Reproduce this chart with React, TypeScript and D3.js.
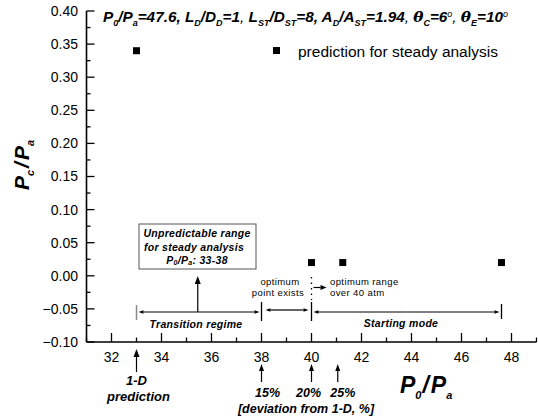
import React from 'react';
import * as d3 from 'd3';

// P0/Pa vs Pc/Pa, steady analysis predictions
const pressureRatio = [33, 40, 41.25, 47.6];
const cavityRatio = [0.34, 0.02, 0.02, 0.02];
const xMajorTicks = [32, 34, 36, 38, 40, 42, 44, 46, 48];
const yMajorTicks = [-0.1, -0.05, 0, 0.05, 0.1, 0.15, 0.2, 0.25, 0.3, 0.35, 0.4];
const deviationAt = [38, 40, 41.05];
const deviationLabels = ['15%', '20%', '25%'];

const W = 538;
const H = 417;
const FONT = "Arial, 'Liberation Sans', Helvetica, sans-serif";

const Arrow = ({ x1, y1, x2, y2, head = 5, w = 2.2, color = '#000' }) => {
  const ang = Math.atan2(y2 - y1, x2 - x1);
  const bx = x2 - head * Math.cos(ang);
  const by = y2 - head * Math.sin(ang);
  const px = -Math.sin(ang) * w;
  const py = Math.cos(ang) * w;
  return (
    <g>
      <line x1={x1} y1={y1} x2={bx} y2={by} stroke={color} strokeWidth={1.2} />
      <path d={`M${x2},${y2}L${bx + px},${by + py}L${bx - px},${by - py}Z`} fill={color} />
    </g>
  );
};

const DoubleArrow = ({ x1, x2, y }) => (
  <g>
    <Arrow x1={(x1 + x2) / 2} y1={y} x2={x1} y2={y} head={5} w={1.8} />
    <Arrow x1={(x1 + x2) / 2} y1={y} x2={x2} y2={y} head={5} w={1.8} />
  </g>
);

export default function App() {
  const x = d3.scaleLinear().domain([31, 49]).range([86.5, 536.5]);
  const y = d3.scaleLinear().domain([-0.1, 0.4]).range([342, 11]);

  const xMinor = d3.range(31, 49.5, 1).filter((v) => !xMajorTicks.includes(v));
  const yMinor = d3.range(-0.075, 0.4, 0.05);

  const sub = (t, size = 9, dy = 4) => (
    <tspan fontSize={size} dy={dy}>{t}</tspan>
  );

  const dimY = 312;
  const devDx = [6, -3, 5];

  return (
    <svg width={W} height={H} style={{ position: 'absolute', left: 0, top: 0, background: '#fff' }} fontFamily={FONT}>
      <rect width={W} height={H} fill="#fff" />

      {/* axes */}
      <line x1={x(31)} x2={x(31)} y1={y(0.4)} y2={y(-0.1)} stroke="#000" strokeWidth={1.6} />
      <line x1={x(31)} x2={x(49)} y1={y(-0.1)} y2={y(-0.1)} stroke="#000" strokeWidth={1.6} />
      {yMajorTicks.map((v) => (
        <g key={'ym' + v}>
          <line x1={x(31)} x2={x(31) + 8} y1={y(v)} y2={y(v)} stroke="#000" strokeWidth={1.3} />
          <text x={78} y={y(v)} dy="0.35em" textAnchor="end" fontSize={14}>
            {d3.format('.2f')(v)}
          </text>
        </g>
      ))}
      {yMinor.map((v) => (
        <line key={'yn' + v} x1={x(31)} x2={x(31) + 4} y1={y(v)} y2={y(v)} stroke="#000" strokeWidth={1.3} />
      ))}
      {xMajorTicks.map((v) => (
        <g key={'xm' + v}>
          <line x1={x(v)} x2={x(v)} y1={y(-0.1)} y2={y(-0.1) - 9} stroke="#000" strokeWidth={1.3} />
          <text x={x(v)} y={362} textAnchor="middle" fontSize={14}>{v}</text>
        </g>
      ))}
      {xMinor.map((v) => (
        <line key={'xn' + v} x1={x(v)} x2={x(v)} y1={y(-0.1)} y2={y(-0.1) - 4.5} stroke="#000" strokeWidth={1.3} />
      ))}

      {/* data */}
      {pressureRatio.map((p, i) => (
        <rect key={'pt' + i} x={x(p) - 3.5} y={y(cavityRatio[i]) - 3.5} width={7} height={7} fill="#000" />
      ))}

      {/* title */}
      <text x={103} y={22} fontSize={15.3} fontWeight="bold" fontStyle="italic">
        P{sub('0')}<tspan dy={-4}>/P</tspan>{sub('a')}<tspan dy={-4}>=47.6, L</tspan>{sub('D')}
        <tspan dy={-4}>/D</tspan>{sub('D')}<tspan dy={-4}>=1</tspan>
        <tspan fontWeight="normal">, </tspan>L{sub('ST')}<tspan dy={-4}>/D</tspan>{sub('ST')}
        <tspan dy={-4}>=8, A</tspan>{sub('D')}<tspan dy={-4}>/A</tspan>{sub('ST')}
        <tspan dy={-4}>=1.94</tspan><tspan fontWeight="normal">, </tspan>
        <tspan fontFamily="'DejaVu Serif', serif">θ</tspan>{sub('C')}<tspan dy={-4}>=6</tspan>
        <tspan fontSize={9} dy={-5} fontWeight="normal">o</tspan><tspan dy={5} fontWeight="normal">, </tspan>
        <tspan fontFamily="'DejaVu Serif', serif">θ</tspan>{sub('E')}<tspan dy={-4}>=10</tspan>
        <tspan fontSize={9} dy={-5} fontWeight="normal">o</tspan>
      </text>

      {/* legend */}
      <rect x={273} y={47} width={7} height={7} fill="#000" />
      <text x={298} y={57} fontSize={15.5}>prediction for steady analysis</text>

      {/* axis titles */}
      <text transform="translate(29,165) rotate(-90)" textAnchor="middle" fontSize={21} fontWeight="bold" fontStyle="italic">
        P<tspan fontSize={11} dy={5}>c</tspan><tspan dy={-5} dx={2}>/</tspan><tspan dx={2}>P</tspan><tspan fontSize={11} dy={5}>a</tspan>
      </text>
      <text x={400} y={393} fontSize={23} fontWeight="bold" fontStyle="italic">
        P<tspan fontSize={11} dy={6}>0</tspan><tspan dy={-6} dx={1}>/</tspan><tspan dx={2}>P</tspan><tspan fontSize={11} dy={6}>a</tspan>
      </text>

      {/* unpredictable range box */}
      <rect x={139} y={224} width={117} height={45} fill="#fff" stroke="#555" strokeWidth={1} />
      <g fontSize={10.5} fontWeight="bold" fontStyle="italic" textAnchor="middle" letterSpacing={0.3}>
        <text x={197} y={237}>Unpredictable range</text>
        <text x={194} y={250.5}>for steady analysis</text>
        <text x={197} y={264}>
          P<tspan fontSize={7} dy={1}>0</tspan><tspan dy={-1}>/P</tspan><tspan fontSize={7} dy={1}>a</tspan><tspan dy={-1}>: 33-38</tspan>
        </text>
      </g>
      <Arrow x1={x(35.45)} y1={dimY} x2={x(35.45)} y2={276} head={8} w={3} />

      {/* regime dimension lines */}
      <line x1={x(33)} x2={x(33)} y1={305} y2={320} stroke="#888" strokeWidth={1.5} />
      <line x1={x(38)} x2={x(38)} y1={302} y2={321} stroke="#000" strokeWidth={1.3} />
      <line x1={x(40)} x2={x(40)} y1={302} y2={321} stroke="#000" strokeWidth={1.3} />
      <line x1={x(47.6)} x2={x(47.6)} y1={304} y2={319} stroke="#000" strokeWidth={1.3} />
      <DoubleArrow x1={x(33) + 2} x2={x(38) - 2} y={dimY} />
      <DoubleArrow x1={x(38) + 4} x2={x(40) - 3} y={dimY - 2} />
      <DoubleArrow x1={x(40) + 2} x2={x(47.6) - 2} y={dimY} />
      <g fontSize={10.5} fontWeight="bold" fontStyle="italic" textAnchor="middle" letterSpacing={0.3}>
        <text x={196} y={328}>Transition regime</text>
        <text x={401} y={327}>Starting mode</text>
      </g>

      {/* optimum annotations */}
      <line x1={x(40)} x2={x(40)} y1={277} y2={300} stroke="#000" strokeWidth={1.3} strokeDasharray="1.5,4" />
      <Arrow x1={x(40) + 2} y1={287.5} x2={x(40) + 15} y2={287.5} head={6} w={2.5} />
      <g fontSize={9.5} letterSpacing={0.4}>
        <text x={280} y={285} textAnchor="middle">optimum</text>
        <text x={278} y={296} textAnchor="middle">point exists</text>
        <text x={330} y={285}>optimum range</text>
        <text x={330} y={296}>over 40 atm</text>
      </g>

      {/* below-axis notes */}
      <Arrow x1={x(33)} y1={372} x2={x(33)} y2={349} head={8} w={3} />
      <g fontSize={13} fontWeight="bold" fontStyle="italic" textAnchor="middle">
        <text x={x(33)} y={385}>1-D</text>
        <text x={x(33) + 2} y={401}>prediction</text>
      </g>
      {deviationAt.map((d) => (
        <Arrow key={'da' + d} x1={x(d)} y1={382} x2={x(d)} y2={364} head={7} w={2.5} />
      ))}
      <g fontSize={12.5} fontWeight="bold" fontStyle="italic" textAnchor="middle">
        {deviationLabels.map((t, i) => (
          <text key={t} x={x(deviationAt[i]) + devDx[i]} y={397}>{t}</text>
        ))}
        <text x={306} y={413}>[deviation from 1-D, %]</text>
      </g>
    </svg>
  );
}
